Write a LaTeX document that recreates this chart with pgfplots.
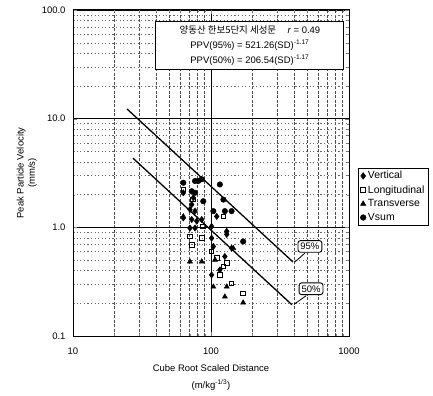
\documentclass[border=0pt]{standalone}
\usepackage{fontspec}
\setmainfont{Liberation Sans}
\newfontfamily\kr{Noto Sans CJK KR}
\usepackage{pgfplots}
\pgfplotsset{compat=1.18}
\begin{document}
\begin{tikzpicture}
\useasboundingbox (-73bp,-60bp) rectangle (360bp,336bp);
\begin{axis}[
  scale only axis, width=276bp, height=326bp,
  xmode=log, ymode=log,
  xmin=10, xmax=1000, ymin=0.1, ymax=100,
  xtick={10,100,1000}, xticklabels={10,100,1000},
  ytick={0.1,1,10,100}, yticklabels={0.1,1.0,10.0,100.0},
  font=\fontsize{9.5}{11.5}\selectfont,
  /pgf/number format/assume math mode=true,
  tick align=inside,
  major tick length=4bp, minor tick length=2.5bp,
  axis line style={line width=1pt},
  grid=both,
  major grid style={black, line width=0.6pt},
  minor x grid style={black!70, line width=0.4pt, dash pattern=on 3pt off 1.5pt},
  minor y grid style={black!60, line width=0.4pt, dash pattern=on 1.2pt off 2.4pt},
  xticklabel style={yshift=-8bp},
  yticklabel style={xshift=-4bp},
  xlabel={Cube Root Scaled Distance\\[5pt](m/kg\textsuperscript{-1/3})},
  xlabel style={align=center, yshift=-4bp},
  ylabel={Peak Particle Velocity\\(mm/s)},
  ylabel style={align=center, yshift=-2bp},
  legend style={at={(rel axis cs:1.033,0.515)}, anchor=north west,
    draw=black, line width=0.6pt, font=\fontsize{10.5}{12}\selectfont,
    row sep=1pt, inner xsep=2pt, inner ysep=1pt},
  legend cell align=left,
  clip=false,
]
% Vertical
\addplot[only marks, mark=diamond*, mark size=3.2pt, black] coordinates {
(63,2.08)(74.4,1.87)(72.5,1.62)(70.4,1.46)(76.6,1.41)(110,1.26)(63,1.22)
(72.5,1.18)(78.8,1.14)(85.7,1.18)(70.4,0.986)(76.6,0.986)(101,1.02)
(130,0.918)(130,0.861)(101,0.796)(104,0.667)(141,0.643)(126,0.539)
(101,0.365)(116,0.406)};
\addlegendentry{Vertical}
% Longitudinal
\addplot[only marks, mark=square, mark size=2.3pt, black, line width=1pt] coordinates {
(63,2.23)(74.4,1.80)(70.4,0.826)(72.5,0.691)(85.7,0.796)(101,0.600)
(110,0.520)(130,0.467)(123,0.435)(116,0.365)(141,0.305)(171,0.247)
(123,1.26)(87.9,1.02)};
\addlegendentry{Longitudinal}
% Transverse
\addplot[only marks, mark=triangle*, mark size=3pt, black] coordinates {
(70.4,0.484)(85.7,0.484)(107,0.502)(104,0.284)(130,0.284)(126,0.230)
(171,0.203)(145,0.643)(63,1.26)};
\addlegendentry{Transverse}
% Vsum
\addplot[only marks, mark=*, mark size=2.8pt, black] coordinates {
(63,2.57)(76.6,2.67)(80.9,2.67)(85.7,2.77)(116,2.48)(72.5,2.15)(76.6,2.08)
(87.9,1.74)(123,1.80)(104,1.41)(126,1.41)(141,1.41)(171,0.741)};
\addlegendentry{Vsum}
% regression lines
\addplot[black, line width=1.3pt, forget plot] coordinates {(24.6,12.3)(393,0.48)};
\addplot[black, line width=1.3pt, forget plot] coordinates {(27.2,4.33)(386,0.194)};
% callouts
\draw[black, line width=0.8pt] (axis cs:480,0.58) -- (axis cs:405,0.48);
\node[draw, fill=white, line width=0.9pt, rounded corners=2.5pt, inner sep=2.5pt,
  font=\fontsize{9.5}{11}\selectfont] at (axis cs:521,0.667) {95\%};
\draw[black, line width=0.8pt] (axis cs:490,0.235) -- (axis cs:400,0.196);
\node[draw, fill=white, line width=0.9pt, rounded corners=2.5pt, inner sep=2.5pt,
  font=\fontsize{9.5}{11}\selectfont] at (axis cs:531,0.272) {50\%};
% info box
\node[draw, fill=white, line width=1.1pt, align=center, inner xsep=6pt, inner ysep=4pt,
  font=\fontsize{9.5}{15}\selectfont, minimum width=188bp]
  at (rel axis cs:0.641,0.891)
  {{\kr 양동산 한보5단지 세성문}\hspace{1.2em}\textit{r} = 0.49\\
   PPV(95\%) = 521.26(SD)\textsuperscript{-1.17}\\
   PPV(50\%) = 206.54(SD)\textsuperscript{-1.17}};
\end{axis}
\end{tikzpicture}
\end{document}
